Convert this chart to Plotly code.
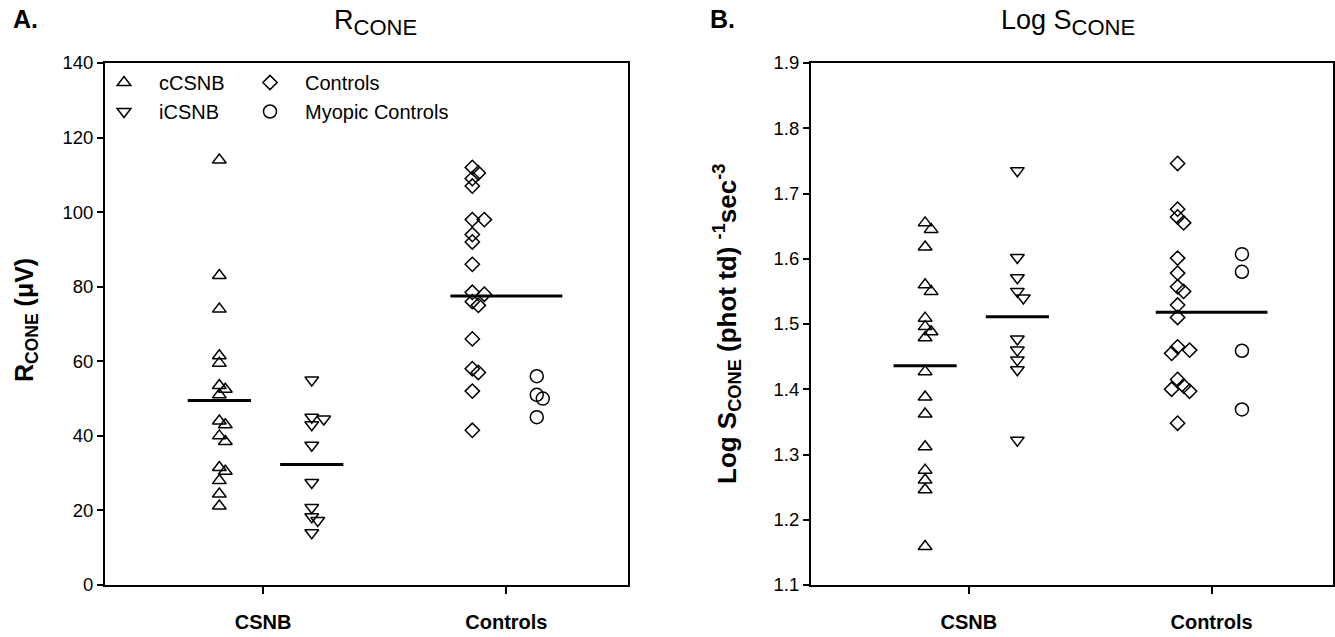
import plotly.graph_objects as go

# Category axis
groups = ["CSNB", "Controls"]

# Panel A: R_CONE (µV)
r_ccsnb = [114, 83, 74, 61.5, 59.5, 53.5, 52.5, 51, 44, 43, 40, 38.5, 31.5, 30.5, 28, 24.4, 21.2]
r_icsnb = [55, 45, 44.5, 43, 37.5, 27.5, 20.8, 18.3, 17.3, 14]
r_controls = [112, 110.5, 109, 107, 98, 98, 94, 92, 86, 78.5, 78, 76, 75, 66, 58, 57, 52, 41.5]
r_myopic = [56, 51, 50, 45]
r_mean_ccsnb = 49.5
r_mean_icsnb = 32.3
r_mean_controls = 77.5

# Panel B: Log S_CONE
s_ccsnb = [1.655, 1.645, 1.618, 1.56, 1.55, 1.509, 1.496, 1.488, 1.479, 1.427,
           1.388, 1.362, 1.312, 1.276, 1.261, 1.246, 1.159]
s_icsnb = [1.735, 1.602, 1.571, 1.55, 1.54, 1.477, 1.46, 1.445, 1.43, 1.322]
s_controls = [1.746, 1.676, 1.664, 1.655, 1.601, 1.578, 1.557, 1.55, 1.529, 1.51,
              1.465, 1.46, 1.455, 1.415, 1.405, 1.40, 1.397, 1.348]
s_myopic = [1.607, 1.58, 1.459, 1.369]
s_mean_ccsnb = 1.436
s_mean_icsnb = 1.511
s_mean_controls = 1.518

FONT = "Liberation Sans, Arial, sans-serif"
W, H = 1335, 637
X_RANGE = [0.35, 2.5]
PLOT_W = 523.0
XPX = PLOT_W / (X_RANGE[1] - X_RANGE[0])   # pixels per category unit

# column offsets of each subgroup around its category
OFF = {"cCSNB": -0.18, "iCSNB": 0.2, "Controls": -0.14, "Myopic": 0.125}
MEAN_HALF = 0.13
CTRL_HALF = 0.23


def swarm(values, center, ypx, min_px=7.0, step_px=6.0):
    """Nudge markers sideways when they would sit on top of each other."""
    out = [center] * len(values)
    placed = []
    order = sorted(range(len(values)), key=lambda i: -values[i])
    for i in order:
        y = values[i] * ypx
        dx = 0.0
        for k in (0, 1, -1, 2, -2):
            cand = k * step_px
            if all((cand - px) ** 2 + (y - py) ** 2 >= min_px ** 2 for px, py in placed):
                dx = cand
                break
        placed.append((dx, y))
        out[i] = center + dx / XPX
    return out


fig = go.Figure()

panels = [
    ("x", "y", 522.0 / 140.0, r_ccsnb, r_icsnb, r_controls, r_myopic,
     r_mean_ccsnb, r_mean_icsnb, r_mean_controls, True),
    ("x2", "y2", 522.0 / 0.8, s_ccsnb, s_icsnb, s_controls, s_myopic,
     s_mean_ccsnb, s_mean_icsnb, s_mean_controls, False),
]

styles = [
    ("cCSNB", "triangle-up-open", 12, 1, "legend"),
    ("iCSNB", "triangle-down-open", 12, 1, "legend"),
    ("Controls", "diamond-open", 11, 2, "legend2"),
    ("Myopic Controls", "circle-open", 13, 2, "legend2"),
]

for xa, ya, ypx, c1, c2, c3, c4, m1, m2, m3, show in panels:
    series = [c1, c2, c3, c4]
    keys = ["cCSNB", "iCSNB", "Controls", "Myopic"]
    for (name, sym, size, cat, leg), vals, key in zip(styles, series, keys):
        xs = swarm(vals, cat + OFF[key], ypx)
        fig.add_trace(go.Scatter(
            x=xs, y=vals, mode="markers", name=name,
            marker=dict(symbol=sym, size=size, color="black",
                        line=dict(width=1.5, color="black")),
            xaxis=xa, yaxis=ya, showlegend=show, legend=leg,
        ))
    # group means
    for cx, half, m in ((1 + OFF["cCSNB"], MEAN_HALF, m1),
                        (1 + OFF["iCSNB"], MEAN_HALF, m2),
                        (2, CTRL_HALF, m3)):
        fig.add_trace(go.Scatter(
            x=[cx - half, cx + half], y=[m, m], mode="lines",
            line=dict(color="black", width=3), showlegend=False,
            xaxis=xa, yaxis=ya, hoverinfo="skip",
        ))

xcommon = dict(
    range=X_RANGE, tickvals=[1, 2], ticktext=["<b>%s</b>" % g for g in groups],
    ticks="outside", ticklen=7, tickwidth=1.5, tickcolor="black",
    showline=True, linecolor="black", linewidth=2, mirror=True,
    showgrid=False, zeroline=False, ticklabelstandoff=11, automargin=False,
    tickfont=dict(family=FONT, size=20, color="black"),
)
ycommon = dict(
    ticks="outside", ticklen=6, tickwidth=1.5, tickcolor="black",
    showline=True, linecolor="black", linewidth=2, mirror=True,
    showgrid=False, zeroline=False, automargin=False,
    tickfont=dict(family=FONT, size=18.5, color="black"),
)

YDOM = [52 / H, 574 / H]
LEG_FONT = dict(family=FONT, size=20, color="black")
fig.update_layout(
    width=W, height=H, margin=dict(l=0, r=0, t=0, b=0, autoexpand=False),
    paper_bgcolor="white", plot_bgcolor="white",
    font=dict(family=FONT, color="black"),
    xaxis=dict(domain=[105 / W, 628 / W], anchor="y", **xcommon),
    yaxis=dict(domain=YDOM, anchor="x", range=[0, 140], dtick=20, **ycommon),
    xaxis2=dict(domain=[811 / W, 1333 / W], anchor="y2", **xcommon),
    yaxis2=dict(domain=YDOM, anchor="x2", range=[1.1, 1.9], dtick=0.1,
                tickformat=".1f", **ycommon),
    legend=dict(x=89 / W, y=1 - 63 / H, xanchor="left", yanchor="top",
                bgcolor="rgba(0,0,0,0)", tracegroupgap=0, itemwidth=60,
                font=LEG_FONT),
    legend2=dict(x=235 / W, y=1 - 63 / H, xanchor="left", yanchor="top",
                 bgcolor="rgba(0,0,0,0)", tracegroupgap=0, itemwidth=60,
                 font=LEG_FONT),
    showlegend=True,
)

SUB = '<sub><span style="font-size:22px">CONE</span></sub>'
ann = [
    dict(text="<b>A.</b>", x=11 / W, y=1 - 19 / H, xanchor="left", yanchor="middle",
         font=dict(size=25)),
    dict(text="<b>B.</b>", x=708 / W, y=1 - 19 / H, xanchor="left", yanchor="middle",
         font=dict(size=25)),
    dict(text="R" + SUB, x=375 / W, y=1 - 22 / H, xanchor="center",
         yanchor="middle", font=dict(size=27)),
    dict(text="Log S" + SUB, x=1068 / W, y=1 - 22 / H, xanchor="center",
         yanchor="middle", font=dict(size=27)),
    dict(text="<b>R<sub>CONE</sub> (μV)</b>", x=26 / W, y=1 - 320 / H, textangle=-90,
         xanchor="center", yanchor="middle", font=dict(size=25)),
    dict(text="<b>Log S<sub>CONE</sub> (phot td) <sup>-1</sup>sec<sup>-3</sup></b>",
         x=727 / W, y=1 - 324 / H, textangle=-90, xanchor="center", yanchor="middle",
         font=dict(size=26)),
]
for a in ann:
    a.update(xref="paper", yref="paper", showarrow=False)
    a["font"].update(family=FONT, color="black")
fig.update_layout(annotations=ann)

fig.write_html("out.html")
